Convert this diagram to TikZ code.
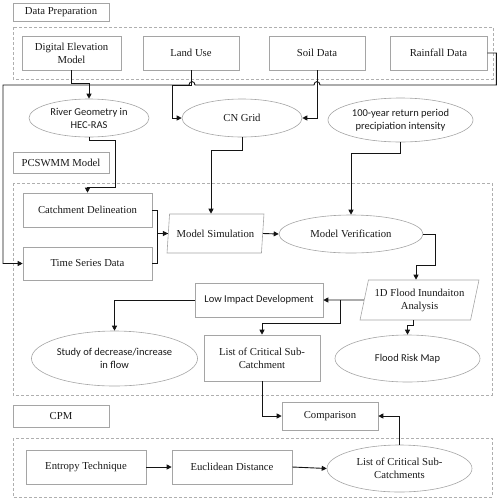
\documentclass[tikz,border=0pt]{standalone}
\usepackage{fontspec}
\setmainfont{Liberation Serif}
\newfontfamily\calfont{Carlito}
\usetikzlibrary{arrows.meta,shapes.geometric,calc}
\definecolor{boxgray}{RGB}{165,165,165}
\definecolor{dashgray}{RGB}{175,175,175}
\definecolor{txt}{RGB}{25,25,25}
\definecolor{arrcol}{RGB}{20,20,20}
\begin{document}
\begin{tikzpicture}[x=1pt,y=-1pt,
  base/.style={draw=boxgray, line width=0.6pt, inner sep=1pt, align=center, text=txt, font=\fontsize{10.7}{13}\selectfont},
  box/.style={base, rectangle},
  sbox/.style={base, rectangle, font=\calfont\fontsize{10.5}{13}\selectfont},
  ell/.style={base, ellipse},
  sell/.style={base, ellipse, font=\calfont\fontsize{10.5}{13}\selectfont},
  para/.style={base, trapezium, trapezium stretches=true},
  dbox/.style={draw=dashgray, line width=0.6pt, dash pattern=on 3pt off 2pt},
  arr/.style={draw=arrcol, line width=0.9pt, -{Triangle[length=5pt,width=5pt]}},
  ln/.style={draw=arrcol, line width=0.9pt}
]
\useasboundingbox (0,0) rectangle (500,499);
% dashed groups
\draw[dbox] (13,27) rectangle (493,79);
\draw[dbox] (13,183) rectangle (492,395);
\draw[dbox] (13,438) rectangle (492,497);
% labels
\node[box, minimum width=96pt, minimum height=18pt] (dp) at (61,12) {Data Preparation};
\node[box, minimum width=96pt, minimum height=21pt] (pcs) at (61,162.5) {PCSWMM Model};
\node[box, minimum width=96pt, minimum height=22pt] (cpm) at (61,416) {CPM};
% data preparation
\node[box, minimum width=99pt, minimum height=34pt] (DEM) at (71.5,53) {Digital Elevation\\Model};
\node[box, minimum width=96pt, minimum height=34pt] (LU) at (191,53) {Land Use};
\node[box, minimum width=96pt, minimum height=34pt] (SD) at (317,53) {Soil Data};
\node[box, minimum width=97pt, minimum height=34pt] (RF) at (438.5,53) {Rainfall Data};
% ellipses
\node[sell, minimum width=120pt, minimum height=38pt] (RG) at (89,118) {River Geometry in\\HEC-RAS};
\node[ell, minimum width=120pt, minimum height=38pt] (CN) at (242,118) {CN Grid};
\node[sell, minimum width=145pt, minimum height=44pt] (PY) at (400.5,120) {100-year return period\\precipiation intensity};
% PCSWMM
\node[box, minimum width=129pt, minimum height=34pt] (CD) at (87.5,210) {Catchment Delineation};
\node[box, minimum width=129pt, minimum height=33pt] (TS) at (87.5,263.5) {Time Series Data};
\node[para, trapezium left angle=77, trapezium right angle=103, minimum width=97pt, minimum height=39pt] (MS) at (215.5,233.5) {Model Simulation};
\node[ell, minimum width=144pt, minimum height=38pt] (MV) at (351,234) {Model Verification};
\node[para, trapezium left angle=73, trapezium right angle=107, minimum width=119pt, minimum height=40pt] (FD) at (419.5,300) {1D Flood Inundaiton\\Analysis};
\node[sbox, minimum width=128pt, minimum height=34pt] (LID) at (259,300) {Low Impact Development};
\node[sell, minimum width=145pt, minimum height=55pt] (ST) at (114.5,358.5) {Study of decrease/increase\\in flow};
\node[box, minimum width=116pt, minimum height=46pt] (LCS) at (262,358) {List of Critical Sub-\\Catchment};
\node[sell, minimum width=145pt, minimum height=47pt] (FRM) at (407.5,358.5) {Flood Risk Map};
% CPM
\node[box, minimum width=96pt, minimum height=28pt] (CMP) at (330,416) {Comparison};
\node[box, minimum width=120pt, minimum height=34pt] (ET) at (86,467) {Entropy Technique};
\node[box, minimum width=120pt, minimum height=34pt] (ED) at (232,467) {Euclidean Distance};
\node[ell, minimum width=145pt, minimum height=47pt] (LCS2) at (399.5,468.5) {List of Critical Sub-\\Catchments};
% connectors
\draw[arr] (DEM.south) -- ++(0,13) -| (RG.north);
\draw[arr] (LU.south) -- ++(0,15) -- ++(-19,0) |- (CN.west);
\draw[arr] (SD.south) |- (CN.east);
\coordinate (h1a) at (320,85);
\coordinate (h1b) at (314,85);
\coordinate (h2a) at (195,85);
\coordinate (h2b) at (189,85);
\draw[arr] (RF.east) -- ++(9,0) |- (h1a) .. controls (320,80.5) and (314,80.5) .. (h1b)
  -- (h2a) .. controls (195,80.5) and (189,80.5) .. (h2b) -- (3,85) |- (TS.west);
\draw[arr] (RG.south) -- ++(0,3) -| ++(26,47) -| (CD.north);
\draw[arr] (CN.south) -- ++(0,13) -| ([xshift=-4.5pt]MS.north);
\draw[arr] (PY.south) -- ++(0,11) -| (MV.north);
\draw[ln] (CD.east) -- ++(5,0) |- (MS.west);
\draw[arr] (TS.east) -- ++(5,0) |- (MS.west);
\draw[arr] (MS.east) -- (MV.west);
\draw[arr] (MV.east) -- ++(12,0) -- ++(0,31) -| ([xshift=-3.5pt]FD.north);
\draw[arr] (FD.west) -- (LID.east);
\draw[arr] ([xshift=-23pt]FD.west) -- ++(0,23) -| (LCS.north);
\draw[arr] ([xshift=-6.5pt]FD.south) -- ++(0,5) -| (FRM.north);
\draw[arr] (LID.west) -| (ST.north);
\draw[arr] (LCS.south) |- (CMP.west);
\draw[arr] (LCS2.north) |- (CMP.east);
\draw[arr] (ET.east) -- (ED.west);
\draw[arr] (ED.east) -- (LCS2.west);
\end{tikzpicture}
\end{document}
